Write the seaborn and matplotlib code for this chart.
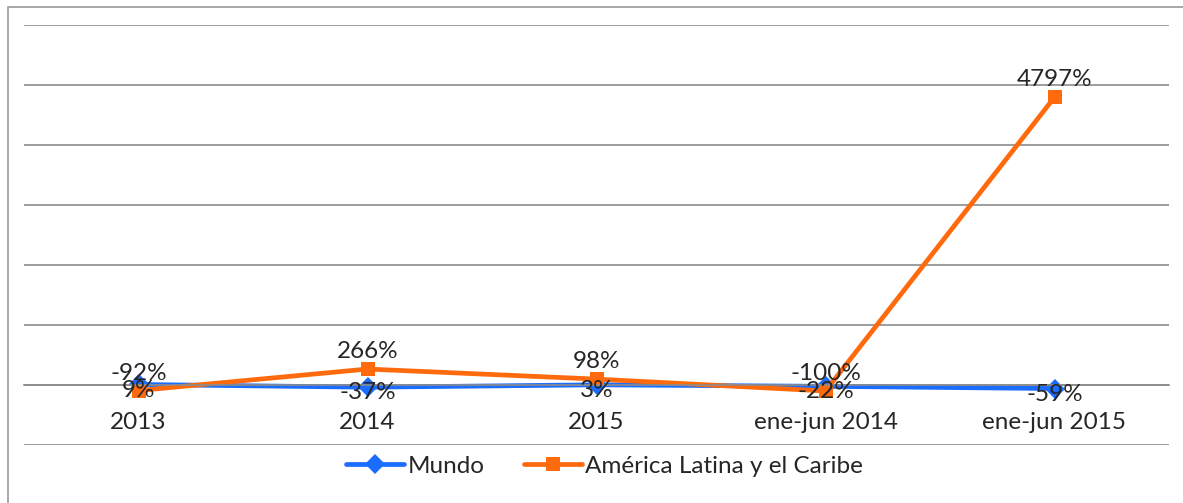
import pandas as pd
import seaborn as sns
import matplotlib.pyplot as plt
from matplotlib.patches import Rectangle
from matplotlib.ticker import MultipleLocator

# values (percent change)
categories = ['2013', '2014', '2015', 'ene-jun 2014', 'ene-jun 2015']
mundo = [9, -37, 3, -22, -59]
alc = [-92, 266, 98, -100, 4797]
series_names = ['Mundo', 'América Latina y el Caribe']
colors = {'Mundo': '#1a6dff', 'América Latina y el Caribe': '#ff6a0d'}
markers = {'Mundo': 'D', 'América Latina y el Caribe': 's'}

FS = 17.5

sns.set_style('white')
plt.rcParams['font.family'] = ['Lato', 'DejaVu Sans']

df = pd.DataFrame({
    'pos': list(range(len(categories))) * 2,
    'Periodo': categories * 2,
    'Valor': mundo + alc,
    'Serie': [series_names[0]] * len(mundo) + [series_names[1]] * len(alc),
})

fig = plt.figure(figsize=(11.83, 5.03), dpi=100)
ax = fig.add_axes([24 / 1183, 1 - 445 / 503, (1169 - 24) / 1183, (445 - 25) / 503])

sns.lineplot(data=df, x='pos', y='Valor', hue='Serie', style='Serie',
             palette=colors, markers=markers, dashes=False, linewidth=3.4,
             markersize=10, markeredgewidth=0, ax=ax, legend=True)

ax.set_xlim(-0.5, len(categories) - 0.5)
ax.set_ylim(-1000, 6000)
ax.yaxis.set_major_locator(MultipleLocator(1000))
ax.grid(axis='y', color='#8c8c8c', linewidth=1.2)
ax.set_yticklabels([])
ax.tick_params(axis='y', length=0)

for s in ['left', 'right', 'top']:
    ax.spines[s].set_visible(False)
ax.spines['bottom'].set_position(('data', 0))
ax.spines['bottom'].set_color('#8c8c8c')
ax.spines['bottom'].set_linewidth(1.2)

ax.set_xticks(range(len(categories)))
ax.set_xticklabels(categories, fontsize=FS)
ax.tick_params(axis='x', which='major', length=0, pad=19.5)
ax.set_xticks([i - 0.5 for i in range(len(categories) + 1)], minor=True)
ax.tick_params(axis='x', which='minor', length=8, color='#8c8c8c', width=1.2, direction='out')
ax.set_xlabel('')
ax.set_ylabel('')

# data labels: ALC above the point, Mundo just under it
for i, v in enumerate(alc):
    ax.annotate(f'{v}%', (i, v), xytext=(0, 5), textcoords='offset points',
                ha='center', va='bottom', fontsize=FS)
for i, v in enumerate(mundo):
    ax.annotate(f'{v}%', (i, v), xytext=(0, -4), textcoords='offset points',
                ha='center', va='center', fontsize=FS)

handles, labels = ax.get_legend_handles_labels()
ax.legend(handles, labels, loc='center', bbox_to_anchor=(0.511, 0.073),
          bbox_transform=fig.transFigure, ncol=2, frameon=False, fontsize=FS,
          handlelength=2.4, handletextpad=0.15, columnspacing=1.6)

# outer chart border (cropped on the right and bottom)
fig.patches.append(Rectangle((8 / 1183, -0.1), 1.2, 1 - 7 / 503 + 0.1,
                             transform=fig.transFigure, fill=False,
                             edgecolor='#9a9a9a', linewidth=1.2))

fig.savefig('out.png', dpi=100)
